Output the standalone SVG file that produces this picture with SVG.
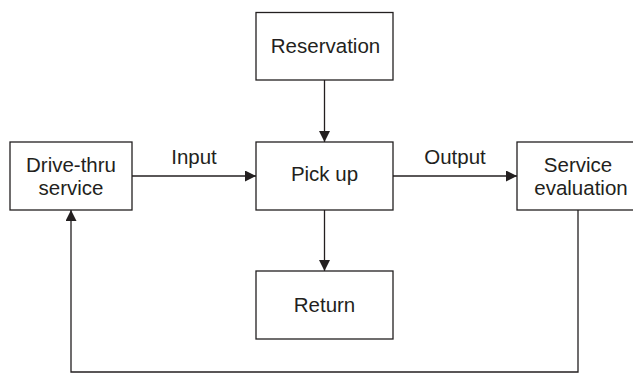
<svg xmlns="http://www.w3.org/2000/svg" width="633" height="374" viewBox="0 0 633 374">
  <style>
    .box { fill: #ffffff; stroke: #231f20; stroke-width: 1.3; }
    .edge { fill: none; stroke: #231f20; stroke-width: 1.3; }
    text { font-family: "Liberation Sans", Arial, sans-serif; font-size: 20.5px; fill: #231f20; text-anchor: middle; }
  </style>
  <defs>
    <marker id="arrow" viewBox="0 0 10 10" refX="10" refY="5" markerWidth="11" markerHeight="11" markerUnits="userSpaceOnUse" orient="auto">
      <path d="M0,0 L10,5 L0,10 Z" fill="#231f20"/>
    </marker>
  </defs>
  <rect width="633" height="374" fill="#ffffff"/>

  <g id="connectors">
    <line class="edge" x1="324.5" y1="80" x2="324.5" y2="142" marker-end="url(#arrow)"/>
    <line class="edge" x1="132" y1="176" x2="256" y2="176" marker-end="url(#arrow)"/>
    <line class="edge" x1="393" y1="176" x2="517" y2="176" marker-end="url(#arrow)"/>
    <line class="edge" x1="324.5" y1="210" x2="324.5" y2="271" marker-end="url(#arrow)"/>
    <polyline class="edge" points="578,210 578,372 71,372 71,210" marker-end="url(#arrow)"/>
    <text x="194" y="164">Input</text>
    <text x="455" y="164">Output</text>
  </g>

  <g id="reservation">
    <rect class="box" x="256" y="12.5" width="137" height="67.5"/>
    <text x="325.5" y="52.5">Reservation</text>
  </g>
  <g id="drive-thru">
    <rect class="box" x="10" y="142" width="122" height="68"/>
    <text x="71" y="172">Drive-thru</text>
    <text x="71" y="195">service</text>
  </g>
  <g id="pick-up">
    <rect class="box" x="256" y="142" width="137" height="68"/>
    <text x="324.5" y="181">Pick up</text>
  </g>
  <g id="service-evaluation">
    <rect class="box" x="517" y="142" width="125" height="68"/>
    <text x="578" y="172">Service</text>
    <text x="581" y="195">evaluation</text>
  </g>
  <g id="return">
    <rect class="box" x="256" y="271" width="137" height="68"/>
    <text x="324.5" y="311.5">Return</text>
  </g>
</svg>
